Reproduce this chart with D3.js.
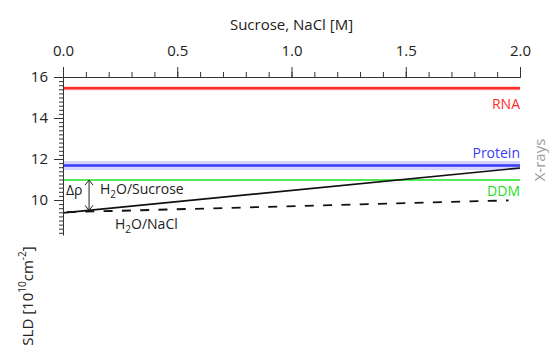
<!DOCTYPE html>
<html>
<head>
<meta charset="utf-8">
<script src="https://cdn.jsdelivr.net/npm/d3@7"></script>
<style>
  body { margin: 0; background: #fff; }
  svg text { font-family: "Open Sans", sans-serif; }
</style>
</head>
<body>
<div id="chart"></div>
<script>
// Données
const xTicks = [0, 0.5, 1.0, 1.5, 2.0];
const yTicks = [10, 12, 14, 16];
const bandNames = ['RNA', 'Protein', 'DDM'];
const bandValues = [15.45, 11.68, 10.97];
const bandSpreads = [0.1, 0.22, 0];
const bandColors = ['#ff2b2b', '#3a3aff', '#1ee01e'];
const sucroseX = [0, 2.0];
const sucroseY = [9.37, 11.56];
const naclX = [0, 1.95];
const naclY = [9.4, 9.98];

const width = 549, height = 356;

const svg = d3.select('#chart')
    .append('svg')
    .attr('width', width)
    .attr('height', height);

const x = d3.scaleLinear().domain([0, 2]).range([63, 520]);
const y = d3.scaleLinear().domain([8.3, 16]).range([77 + 7.7 * 20.5, 77]);

const axisColor = '#333';
const fontFam = '"Open Sans", sans-serif';

// Bandes (RNA, Protein, DDM)
bandValues.forEach((v, i) => {
    if (bandSpreads[i] > 0) {
        svg.append('rect')
            .attr('x', x(0))
            .attr('width', x(2) - x(0))
            .attr('y', y(v + bandSpreads[i]))
            .attr('height', y(v - bandSpreads[i]) - y(v + bandSpreads[i]))
            .attr('fill', bandColors[i])
            .attr('opacity', 0.22);
    }
    svg.append('line')
        .attr('x1', x(0)).attr('x2', x(2))
        .attr('y1', y(v)).attr('y2', y(v))
        .attr('stroke', bandColors[i])
        .attr('stroke-width', i === 2 ? 1.5 : 2.5);
});

// Lignes H2O/Sucrose et H2O/NaCl
const line = d3.line().x(d => x(d[0])).y(d => y(d[1]));

svg.append('path')
    .datum(sucroseX.map((d, i) => [d, sucroseY[i]]))
    .attr('d', line)
    .attr('fill', 'none')
    .attr('stroke', '#111')
    .attr('stroke-width', 1.7);

svg.append('path')
    .datum(naclX.map((d, i) => [d, naclY[i]]))
    .attr('d', line)
    .attr('fill', 'none')
    .attr('stroke', '#111')
    .attr('stroke-width', 1.8)
    .attr('stroke-dasharray', '9,9.3')
    .attr('stroke-dashoffset', -4);

// Flèche Δρ
const ax = x(0.114);
const aTop = y(bandValues[2]);
const aBot = y(sucroseY[0] + (sucroseY[1] - sucroseY[0]) * 0.114 / 2);
svg.append('line')
    .attr('x1', ax).attr('x2', ax)
    .attr('y1', aTop).attr('y2', aBot)
    .attr('stroke', '#222').attr('stroke-width', 1);
svg.append('path')
    .attr('d', `M${ax - 4},${aTop + 5}L${ax},${aTop}L${ax + 4},${aTop + 5}`)
    .attr('fill', 'none').attr('stroke', '#222').attr('stroke-width', 1);
svg.append('path')
    .attr('d', `M${ax - 4},${aBot - 5}L${ax},${aBot}L${ax + 4},${aBot - 5}`)
    .attr('fill', 'none').attr('stroke', '#222').attr('stroke-width', 1);

svg.append('text')
    .attr('x', 66).attr('y', 195)
    .style('font-size', '14px').style('fill', '#222')
    .text('Δρ');

const sucLabel = svg.append('text')
    .attr('x', 100).attr('y', 194)
    .style('font-size', '14px').style('fill', '#222');
sucLabel.append('tspan').text('H');
sucLabel.append('tspan').attr('dy', 4).style('font-size', '10px').text('2');
sucLabel.append('tspan').attr('dy', -4).text('O/Sucrose');

const naclLabel = svg.append('text')
    .attr('x', 115).attr('y', 229)
    .style('font-size', '14px').style('fill', '#222');
naclLabel.append('tspan').text('H');
naclLabel.append('tspan').attr('dy', 4).style('font-size', '10px').text('2');
naclLabel.append('tspan').attr('dy', -4).text('O/NaCl');

// Étiquettes des bandes
const labelY = [109, 158, 196];
bandNames.forEach((n, i) => {
    svg.append('text')
        .attr('x', x(2)).attr('y', labelY[i])
        .attr('text-anchor', 'end')
        .style('font-size', '14px')
        .style('fill', bandColors[i])
        .text(n);
});

svg.append('text')
    .attr('transform', `translate(545, 160) rotate(-90)`)
    .attr('text-anchor', 'middle')
    .style('font-size', '15px')
    .style('fill', '#999')
    .text('X-rays');

// Axe du haut
const xMinor = d3.range(0, 2.0001, 0.1);
svg.append('g')
    .attr('transform', `translate(0, ${y(16)})`)
    .call(d3.axisTop(x).tickValues(xMinor).tickSize(5).tickFormat(''))
    .call(g => g.selectAll('line, path').attr('stroke', axisColor));
svg.append('g')
    .attr('transform', `translate(0, ${y(16)})`)
    .call(d3.axisTop(x).tickValues(xTicks).tickSize(10).tickSizeOuter(0).tickPadding(11).tickFormat(d3.format('.1f')))
    .call(g => g.selectAll('line, path').attr('stroke', axisColor))
    .call(g => g.selectAll('text').style('font-size', '15px').style('fill', '#222').style('font-family', fontFam));

svg.append('text')
    .attr('x', (x(0) + x(2)) / 2).attr('y', 30)
    .attr('text-anchor', 'middle')
    .style('font-size', '15px')
    .style('fill', '#222')
    .text('Sucrose, NaCl [M]');

// Axe de gauche
const yMinor = d3.range(8.4, 16.0001, 0.2);
svg.append('g')
    .attr('transform', `translate(${x(0)}, 0)`)
    .call(d3.axisLeft(y).tickValues(yMinor).tickSize(4).tickSizeOuter(0).tickFormat(''))
    .call(g => g.selectAll('line, path').attr('stroke', axisColor));
svg.append('g')
    .attr('transform', `translate(${x(0)}, 0)`)
    .call(d3.axisLeft(y).tickValues(yTicks).tickSize(9).tickSizeOuter(0).tickPadding(6).tickFormat(d3.format('d')))
    .call(g => g.selectAll('line, path').attr('stroke', axisColor))
    .call(g => g.selectAll('text').style('font-size', '15px').style('fill', '#222').style('font-family', fontFam));

// Titre de l'axe y
const yTitle = svg.append('text')
    .attr('transform', 'translate(33, 296) rotate(-90)')
    .attr('text-anchor', 'middle')
    .style('font-size', '15px')
    .style('fill', '#222');
yTitle.append('tspan').text('SLD [10');
yTitle.append('tspan').attr('dy', -7).style('font-size', '10px').text('10');
yTitle.append('tspan').attr('dy', 7).text('cm');
yTitle.append('tspan').attr('dy', -7).style('font-size', '10px').text('-2');
yTitle.append('tspan').attr('dy', 7).text(']');
</script>
</body>
</html>
